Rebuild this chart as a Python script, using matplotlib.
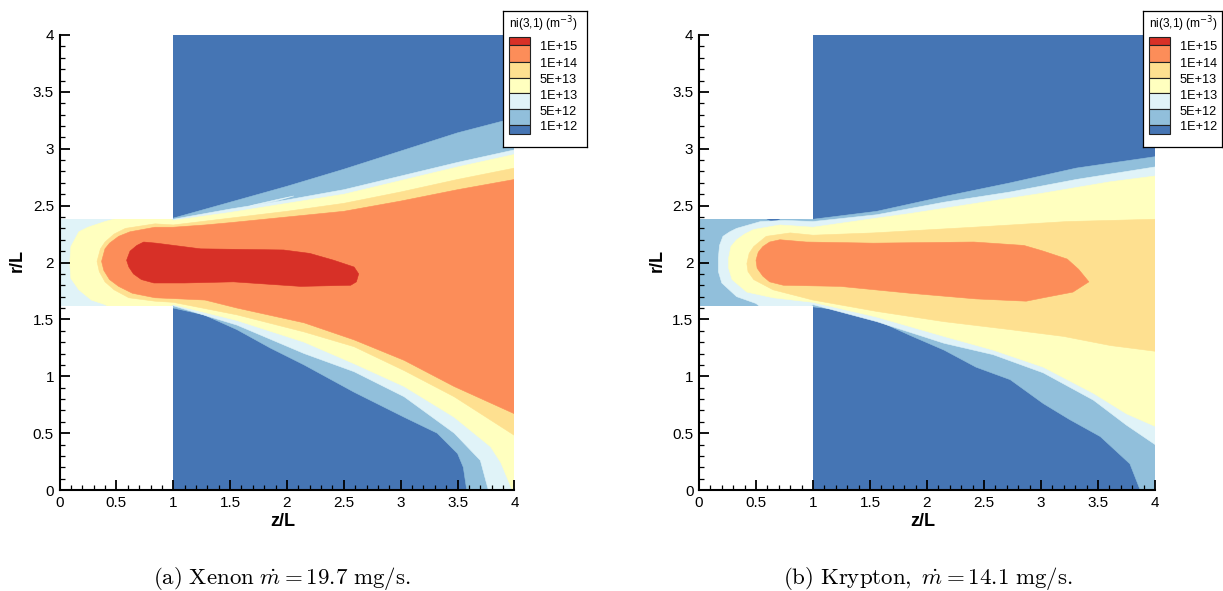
import matplotlib
matplotlib.use("Agg")
import matplotlib.pyplot as plt
from matplotlib.patches import Polygon, Rectangle
from matplotlib.ticker import MultipleLocator, FuncFormatter

W, H = 1223, 591

# ---------------- geometry ----------------
Z_MAX, R_MAX = 4.0, 4.0
CHANNEL_Z = 1.0
CHANNEL_R = (1.62, 2.38)

# contour colours (lowest -> highest level)
COLORS = ["#4575b4", "#91bfdb", "#e0f3f8", "#ffffbf", "#fee090", "#fc8d59", "#d73027"]
LEVEL_LABELS = ["1E+15", "1E+14", "5E+13", "1E+13", "5E+12", "1E+12"]
LEGEND_TITLE = "ni(3,1) (m$^{-3}$)"
X_LABEL, Y_LABEL = "z/L", "r/L"
CAPTIONS = [r"$\mathrm{(a)\ Xenon}\ \dot{m} = \mathrm{19.7\ mg/s.}$",
            r"$\mathrm{(b)\ Krypton,}\ \dot{m} = \mathrm{14.1\ mg/s.}$"]

# ---------------- Xenon contour outlines (z/L, r/L) ----------------
XE_L2 = [(0, 2.40), (1.0, 2.39), (1.5, 2.53), (2.0, 2.67), (2.5, 2.82), (3.0, 2.98),
         (3.5, 3.14), (4.0, 3.27), (4.0, 0.0), (3.58, 0.0), (3.55, 0.20), (3.50, 0.32),
         (3.32, 0.50), (3.03, 0.64), (2.59, 0.86), (2.15, 1.10), (1.85, 1.25),
         (1.56, 1.41), (1.27, 1.54), (1.0, 1.60), (0, 1.60)]
XE_L3 = [(0, 2.40), (1.0, 2.38), (1.5, 2.47), (2.0, 2.55), (2.5, 2.64), (3.0, 2.76),
         (3.5, 2.88), (4.0, 2.99), (4.0, 0.0), (3.77, 0.0), (3.70, 0.26), (3.47, 0.50),
         (3.03, 0.82), (2.59, 1.04), (2.15, 1.20), (1.56, 1.45), (1.0, 1.62), (0, 1.60)]
XE_L3_SLIVER = [(1.66, 2.49), (1.90, 2.54), (2.06, 2.585), (1.92, 2.555), (1.70, 2.505)]
XE_L2_PATCH_TOP = [(0.57, 2.39), (0.74, 2.39), (0.66, 2.34)]
XE_L2_PATCH_BOT = [(0.57, 1.61), (0.74, 1.61), (0.68, 1.66)]
XE_L4 = [(0.09, 2.00), (0.10, 2.14), (0.17, 2.27), (0.25, 2.31), (0.40, 2.36),
         (0.55, 2.40), (0.95, 2.40), (1.0, 2.37), (1.5, 2.44), (2.0, 2.52), (2.5, 2.60),
         (3.0, 2.72), (3.5, 2.84), (4.0, 2.95), (4.0, 0.0), (3.98, 0.0), (3.88, 0.24),
         (3.79, 0.38), (3.47, 0.64), (3.03, 0.91), (2.59, 1.11), (2.15, 1.30),
         (1.56, 1.49), (1.0, 1.63), (0.95, 1.60), (0.45, 1.60), (0.40, 1.63),
         (0.28, 1.67), (0.17, 1.76), (0.10, 1.86)]
XE_L5 = [(0.33, 2.01), (0.36, 2.12), (0.40, 2.18), (0.48, 2.25), (0.58, 2.30),
         (0.84, 2.34), (1.0, 2.33), (1.5, 2.39), (2.0, 2.45), (2.5, 2.52), (3.0, 2.62),
         (3.5, 2.73), (4.0, 2.83), (4.0, 0.48), (3.47, 0.82), (3.03, 1.05), (2.59, 1.26),
         (2.15, 1.39), (1.56, 1.54), (1.0, 1.65), (0.84, 1.66), (0.61, 1.69),
         (0.48, 1.76), (0.40, 1.83), (0.35, 1.92)]
XE_L6 = [(0.37, 2.01), (0.40, 2.12), (0.44, 2.17), (0.52, 2.23), (0.62, 2.27),
         (0.84, 2.31), (1.0, 2.31), (1.28, 2.33), (1.5, 2.35), (2.0, 2.40), (2.5, 2.45),
         (3.0, 2.54), (3.5, 2.64), (4.0, 2.73), (4.0, 0.67), (3.47, 0.91), (3.03, 1.14),
         (2.59, 1.32), (2.15, 1.47), (1.56, 1.60), (1.28, 1.67), (0.84, 1.69),
         (0.64, 1.73), (0.52, 1.79), (0.44, 1.85), (0.39, 1.93)]
XE_L7 = [(0.59, 2.02), (0.62, 2.10), (0.68, 2.15), (0.74, 2.18), (0.85, 2.17),
         (1.24, 2.12), (1.97, 2.11), (2.20, 2.08), (2.41, 2.02), (2.59, 1.96),
         (2.63, 1.90), (2.61, 1.83), (2.56, 1.80), (2.12, 1.79), (1.53, 1.83),
         (1.10, 1.82), (0.83, 1.82), (0.72, 1.85), (0.65, 1.90), (0.61, 1.96)]

# ---------------- Krypton contour outlines (z/L, r/L) ----------------
KR_L2 = [(0, 2.40), (1.0, 2.38), (1.56, 2.45), (2.15, 2.58), (2.73, 2.70), (3.31, 2.83),
         (4.0, 2.93), (4.0, 0.0), (3.87, 0.0), (3.78, 0.23), (3.52, 0.47), (3.25, 0.62),
         (3.02, 0.76), (2.73, 0.97), (2.43, 1.08), (2.15, 1.23), (1.85, 1.36),
         (1.50, 1.52), (1.27, 1.58), (1.0, 1.61), (0, 1.60)]
KR_L1_PATCH_TOP = [(0.58, 2.39), (0.72, 2.39), (0.66, 2.355)]
KR_L1_PATCH_BOT = [(0.57, 1.61), (0.71, 1.61), (0.64, 1.645)]
KR_L2_SLIVER = [(1.50, 2.40), (1.70, 2.45), (1.85, 2.49), (1.72, 2.46), (1.55, 2.415)]
KR_L3 = [(0.17, 2.04), (0.18, 2.15), (0.21, 2.23), (0.27, 2.27), (0.33, 2.30),
         (0.54, 2.36), (0.75, 2.37), (1.0, 2.36), (1.56, 2.42), (2.15, 2.53),
         (2.73, 2.62), (3.31, 2.73), (4.0, 2.84), (4.0, 0.40), (3.75, 0.57),
         (3.46, 0.79), (3.02, 1.03), (2.58, 1.19), (2.15, 1.29), (1.56, 1.48),
         (1.0, 1.63), (0.97, 1.60), (0.55, 1.60), (0.50, 1.64), (0.33, 1.70),
         (0.20, 1.82), (0.17, 1.92)]
KR_L4 = [(0.26, 2.04), (0.28, 2.14), (0.33, 2.20), (0.40, 2.25), (0.48, 2.29),
         (0.71, 2.33), (1.0, 2.31), (1.56, 2.39), (1.85, 2.43), (2.43, 2.52),
         (3.02, 2.61), (3.61, 2.71), (4.0, 2.76), (4.0, 0.56), (3.75, 0.67),
         (3.46, 0.85), (3.02, 1.08), (2.58, 1.23), (2.15, 1.35), (1.56, 1.52),
         (1.0, 1.65), (0.65, 1.69), (0.42, 1.74), (0.29, 1.85), (0.26, 1.95)]
KR_L5 = [(0.42, 1.99), (0.44, 2.08), (0.48, 2.14), (0.59, 2.23), (0.80, 2.26),
         (1.0, 2.24), (1.53, 2.26), (2.41, 2.31), (3.23, 2.36), (4.0, 2.38),
         (4.0, 1.22), (3.61, 1.27), (3.20, 1.35), (2.73, 1.41), (2.15, 1.48),
         (1.56, 1.57), (1.0, 1.67), (0.65, 1.76), (0.48, 1.85), (0.43, 1.92)]
KR_L6 = [(0.50, 2.02), (0.52, 2.09), (0.56, 2.14), (0.62, 2.18), (0.71, 2.20),
         (0.94, 2.18), (1.53, 2.17), (2.41, 2.18), (2.85, 2.15), (3.02, 2.10),
         (3.23, 2.03), (3.33, 1.94), (3.42, 1.83), (3.28, 1.74), (3.02, 1.69),
         (2.87, 1.66), (2.43, 1.68), (1.85, 1.73), (1.24, 1.79), (0.74, 1.80),
         (0.62, 1.83), (0.56, 1.88), (0.51, 1.95)]

# drawing order: (colour index, outline)
XE_LAYERS = [(1, XE_L2), (2, XE_L3), (2, XE_L3_SLIVER), (1, XE_L2_PATCH_TOP),
             (1, XE_L2_PATCH_BOT), (3, XE_L4), (4, XE_L5), (5, XE_L6), (6, XE_L7)]
KR_LAYERS = [(1, KR_L2), (0, KR_L1_PATCH_TOP), (0, KR_L1_PATCH_BOT), (1, KR_L2_SLIVER),
             (2, KR_L3), (3, KR_L4), (4, KR_L5), (5, KR_L6)]

# ---------------- figure ----------------
plt.rcParams["font.family"] = ["Liberation Sans", "DejaVu Sans"]
fig = plt.figure(figsize=(W / 100, H / 100), dpi=100)


def px_axes(x0, y0, x1, y1):
    return fig.add_axes([x0 / W, 1 - y1 / H, (x1 - x0) / W, (y1 - y0) / H])


def draw_panel(ax, layers):
    ax.set_xlim(0, Z_MAX)
    ax.set_ylim(0, R_MAX)
    clip = Polygon([(0, CHANNEL_R[0]), (CHANNEL_Z, CHANNEL_R[0]), (CHANNEL_Z, 0),
                    (Z_MAX, 0), (Z_MAX, R_MAX), (CHANNEL_Z, R_MAX),
                    (CHANNEL_Z, CHANNEL_R[1]), (0, CHANNEL_R[1])],
                   closed=True, facecolor="none", edgecolor="none")
    ax.add_patch(clip)
    bg = Rectangle((CHANNEL_Z, 0), Z_MAX - CHANNEL_Z, R_MAX, facecolor=COLORS[0],
                   edgecolor="none", zorder=0.5)
    ax.add_patch(bg)
    for ci, pts in layers:
        p = Polygon(pts, closed=True, facecolor=COLORS[ci], edgecolor=COLORS[ci],
                    lw=0.4, zorder=0.6)
        ax.add_patch(p)
        p.set_clip_path(clip)

    for s in ("top", "right"):
        ax.spines[s].set_visible(False)
    for s in ("left", "bottom"):
        ax.spines[s].set_linewidth(1.5)
        ax.spines[s].set_zorder(3)
    ax.xaxis.set_major_locator(MultipleLocator(0.5))
    ax.yaxis.set_major_locator(MultipleLocator(0.5))
    ax.xaxis.set_minor_locator(MultipleLocator(0.1))
    ax.yaxis.set_minor_locator(MultipleLocator(0.1))
    fmt = FuncFormatter(lambda v, p: "%g" % v)
    ax.xaxis.set_major_formatter(fmt)
    ax.yaxis.set_major_formatter(fmt)
    ax.tick_params(which="major", direction="in", length=7, width=1.3,
                   labelsize=11, pad=4)
    ax.tick_params(which="minor", direction="in", length=3.5, width=0.9)
    ax.text(0.49, -0.05, X_LABEL, transform=ax.transAxes, ha="center", va="top",
            fontsize=13, fontweight="bold")
    ax.text(-0.092, 0.505, Y_LABEL, transform=ax.transAxes, ha="center",
            va="center", rotation=90, fontsize=13, fontweight="bold")


def draw_legend(x0, width):
    lg = px_axes(x0, 10.7, x0 + width, 146.7)
    lg.set_xlim(0, width)
    lg.set_ylim(136, 0)
    lg.set_xticks([])
    lg.set_yticks([])
    lg.set_facecolor("white")
    for s in lg.spines.values():
        s.set_linewidth(0.9)
    edges = [26, 34.3, 51, 67, 82.6, 98.6, 114.3, 123.3]
    cols = COLORS[::-1]
    for i in range(len(cols)):
        lg.add_patch(Rectangle((6.6, edges[i]), 20.7, edges[i + 1] - edges[i],
                               facecolor=cols[i], edgecolor="#222222", lw=0.8))
    for i, lab in enumerate(LEVEL_LABELS):
        lg.text(37.0, edges[i + 1] + 2.2, lab, ha="left", va="center", fontsize=9.2)
    lg.text(6.0, 13.3, LEGEND_TITLE, ha="left", va="center", fontsize=8.6,
            math_fontfamily="dejavusans")


ax1 = px_axes(59.5, 35, 514.5, 490)
draw_panel(ax1, XE_LAYERS)
ax2 = px_axes(699, 35, 1155, 490)
draw_panel(ax2, KR_LAYERS)

draw_legend(502.7, 84)
draw_legend(1142.7, 79)

fig.text(282 / W, 1 - 578 / H, CAPTIONS[0], ha="center", va="center", fontsize=16.5,
         math_fontfamily="cm")
fig.text(928 / W, 1 - 578 / H, CAPTIONS[1], ha="center", va="center", fontsize=16.5,
         math_fontfamily="cm")

fig.savefig("out.png", dpi=100)
